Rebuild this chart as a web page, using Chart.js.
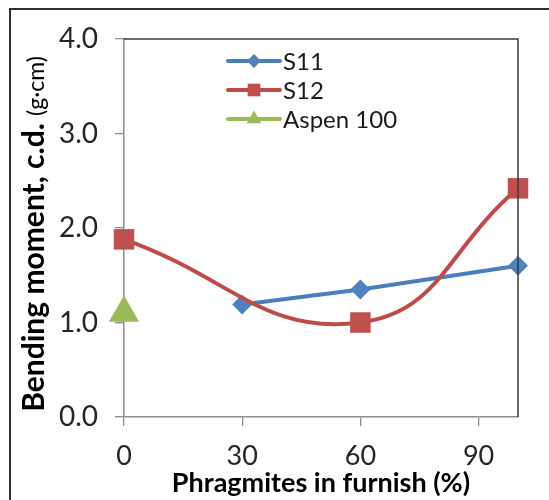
<!DOCTYPE html>
<html><head><meta charset="utf-8">
<script src="https://cdn.jsdelivr.net/npm/chart.js@4/dist/chart.umd.min.js"></script>
<style>
html,body{margin:0;padding:0;background:#fff;overflow:hidden;}
#wrap{position:relative;width:549px;height:500px;overflow:hidden;}
#frame{position:absolute;left:9px;top:8px;width:620px;height:620px;border:2px solid #2e2e2e;box-sizing:border-box;}
canvas{position:absolute;left:0;top:0;}
</style></head><body>
<div id="wrap"><div id="frame"></div><canvas id="c" width="549" height="500"></canvas></div>
<script>
// ---- data ----
const xTicks = [0, 30, 60, 90];
const yTicks = [0, 1, 2, 3, 4];
const seriesNames = ['S11', 'S12', 'Aspen 100'];
const s11X = [30, 60, 100];
const s11Y = [1.19, 1.35, 1.60];
const s12X = [0, 60, 100];
const s12Y = [1.88, 1.00, 2.42];
const aspenX = [0];
const aspenY = [1.10];
const xTitle = 'Phragmites in furnish (%)';
const yTitleMain = 'Bending moment, c.d. ';
const yTitleUnit = '(g·cm)';

// ---- styles ----
const FONT = 'Lato, "Open Sans", sans-serif';
const blue = '#4A7EBB', blueFill = '#4F81BD';
const red = '#BE4B48', redFill = '#C0504D';
const green = '#9BBB59';
const axisGrey = '#8C8C8C';

const pts = (xs, ys) => xs.map((x, i) => ({ x: x, y: ys[i] }));

function drawMarker(ctx, style, r, x, y, color) {
  ctx.save();
  ctx.fillStyle = color;
  ctx.beginPath();
  if (style === 'rectRot') {
    ctx.moveTo(x - r, y); ctx.lineTo(x, y - r); ctx.lineTo(x + r, y); ctx.lineTo(x, y + r);
  } else if (style === 'rect') {
    const s = r * Math.SQRT1_2;
    ctx.rect(x - s, y - s, 2 * s, 2 * s);
  } else if (style === 'triangle') {
    ctx.moveTo(x, y - r);
    ctx.lineTo(x + r * Math.sin(Math.PI / 3), y + r / 2);
    ctx.lineTo(x - r * Math.sin(Math.PI / 3), y + r / 2);
  }
  ctx.closePath();
  ctx.fill();
  ctx.restore();
}

const legendMarkerR = { rectRot: 7, rect: 9, triangle: 8.5 };

const decorPlugin = {
  id: 'decor',
  afterDraw(chart) {
    const { ctx, chartArea: a } = chart;
    // plot area top/right border
    ctx.save();
    ctx.strokeStyle = '#3a3a3a';
    ctx.lineWidth = 1.5;
    ctx.beginPath();
    ctx.moveTo(a.left, a.top);
    ctx.lineTo(a.right, a.top);
    ctx.lineTo(a.right, a.bottom);
    ctx.stroke();
    ctx.restore();

    // legend
    const x0 = 228, x1 = 280, tx = 283, rows = [61, 90, 119];
    chart.data.datasets.forEach((ds, i) => {
      const y = rows[i];
      ctx.save();
      ctx.strokeStyle = ds.borderColor;
      ctx.lineWidth = 4;
      ctx.lineCap = 'round';
      ctx.beginPath(); ctx.moveTo(x0, y); ctx.lineTo(x1, y); ctx.stroke();
      ctx.restore();
      drawMarker(ctx, ds.pointStyle, legendMarkerR[ds.pointStyle], (x0 + x1) / 2, y, ds.backgroundColor);
      ctx.save();
      ctx.fillStyle = '#1a1a1a';
      ctx.font = '24px ' + FONT;
      ctx.textBaseline = 'middle';
      ctx.fillText(ds.label, tx, y + 1);
      ctx.restore();
    });

    // y-axis title (two font sizes)
    ctx.save();
    const cx = 44, cy = 234;
    ctx.translate(cx, cy);
    ctx.rotate(-Math.PI / 2);
    const f1 = 'bold 30px ' + FONT, f2 = '23px ' + FONT;
    ctx.font = f1; const w1 = ctx.measureText(yTitleMain).width;
    ctx.font = f2; const w2 = ctx.measureText(yTitleUnit).width;
    let sx = -(w1 + w2) / 2;
    ctx.textBaseline = 'alphabetic';
    ctx.fillStyle = '#000';
    ctx.font = f1; ctx.fillText(yTitleMain, sx, 0);
    ctx.font = f2; ctx.fillText(yTitleUnit, sx + w1, 0);
    ctx.restore();
  }
};

const gridOpts = { display: true, drawOnChartArea: false, drawTicks: true, tickLength: 9, color: axisGrey, lineWidth: 1.3 };
const borderOpts = { display: true, color: axisGrey, width: 1.5 };

new Chart(document.getElementById('c'), {
  type: 'line',
  data: {
    datasets: [
      { label: seriesNames[0], data: pts(s11X, s11Y), borderColor: blue, backgroundColor: blueFill,
        borderWidth: 4, pointStyle: 'rectRot', pointRadius: 10, pointBorderWidth: 0,
        pointBackgroundColor: blueFill, tension: 0, clip: false, order: 3 },
      { label: seriesNames[1], data: pts(s12X, s12Y), borderColor: red, backgroundColor: redFill,
        borderWidth: 4, pointStyle: 'rect', pointRadius: 14.5, pointBorderWidth: 0,
        pointBackgroundColor: redFill, tension: 0.45, clip: false, order: 2 },
      { label: seriesNames[2], data: pts(aspenX, aspenY), borderColor: green, backgroundColor: green,
        borderWidth: 4, pointStyle: 'triangle', pointRadius: 17.5, pointBorderWidth: 0,
        pointBackgroundColor: green, showLine: false, clip: false, order: 1 }
    ]
  },
  options: {
    responsive: false,
    animation: false,
    events: [],
    layout: { padding: { top: 39, right: 31, left: 0, bottom: 0 } },
    plugins: { legend: { display: false }, tooltip: { enabled: false } },
    scales: {
      x: {
        type: 'linear', min: 0, max: 100,
        afterBuildTicks: s => { s.ticks = xTicks.map(v => ({ value: v })); },
        afterFit: s => { s.height = 83; },
        grid: gridOpts, border: borderOpts,
        ticks: { font: { family: FONT, size: 27 }, color: '#262626', padding: 14, maxRotation: 0, autoSkip: false },
        title: { display: true, text: xTitle, font: { family: FONT, size: 27, weight: 'bold' }, color: '#000', padding: { top: 0, bottom: 1 } }
      },
      y: {
        type: 'linear', min: 0, max: 4,
        afterBuildTicks: s => { s.ticks = yTicks.map(v => ({ value: v })); },
        afterFit: s => { s.width = 124; },
        grid: gridOpts, border: borderOpts,
        ticks: { font: { family: FONT, size: 28 }, color: '#262626', padding: 17, callback: v => Number(v).toFixed(1) }
      }
    }
  },
  plugins: [decorPlugin]
});
</script>
</body></html>
